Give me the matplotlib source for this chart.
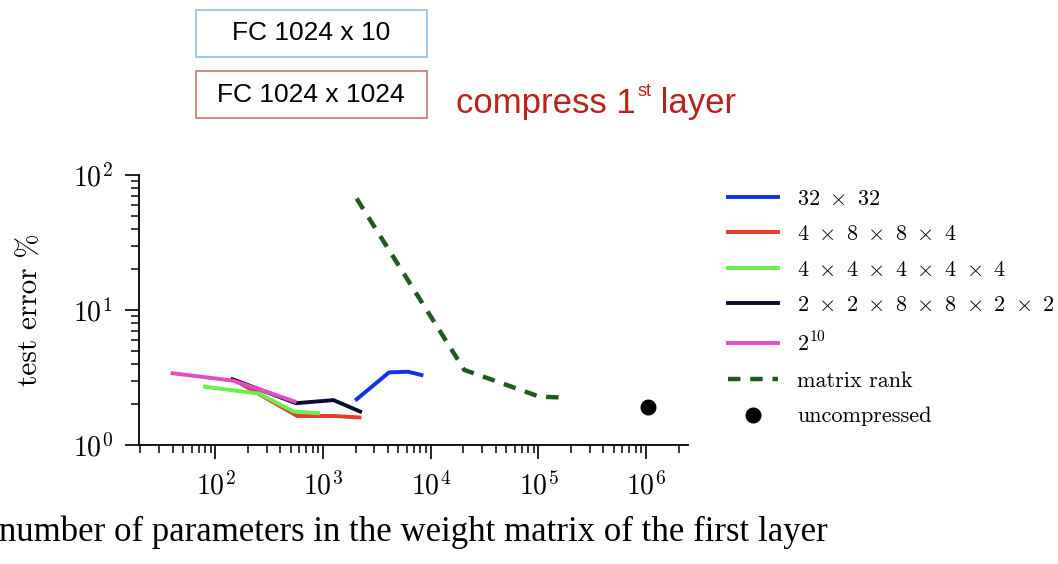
import numpy as np
import matplotlib
matplotlib.use('Agg')
import matplotlib.pyplot as plt
from matplotlib.patches import Rectangle
from matplotlib.ticker import NullFormatter

plt.rcParams['font.family'] = 'cmr10'
plt.rcParams['mathtext.fontset'] = 'cm'
plt.rcParams['axes.formatter.use_mathtext'] = True

# tensor-train layers, one array pair per shape (params vs test error %)
tt_32x32_params = [2048, 4096, 6144, 8192]
tt_32x32_err = [2.18, 3.45, 3.49, 3.30]

tt_4884_params = [160, 576, 1248, 2176]
tt_4884_err = [2.94, 1.64, 1.64, 1.60]

tt_44444_params = [80, 256, 528, 896]
tt_44444_err = [2.70, 2.40, 1.77, 1.72]

tt_228822_params = [144, 560, 1248, 2208]
tt_228822_err = [3.07, 2.04, 2.15, 1.77]

tt_2pow10_params = [40, 144, 312, 544]
tt_2pow10_err = [3.40, 3.00, 2.45, 2.10]

# low rank matrix baseline
rank_params = [2048, 20480, 102400, 163840]
rank_err = [67.0, 3.6, 2.28, 2.25]

full_params = [1048576]
full_err = [1.9]

labels = [r'$32\ \times\ 32$', r'$4\ \times\ 8\ \times\ 8\ \times\ 4$',
          r'$4\ \times\ 4\ \times\ 4\ \times\ 4\ \times\ 4$',
          r'$2\ \times\ 2\ \times\ 8\ \times\ 8\ \times\ 2\ \times\ 2$', r'$2^{10}$',
          'matrix rank', 'uncompressed']
colors = ['#1030f0', '#e83a28', '#6cee4c', '#0c0c30', '#e64cc6']

W, H = 1058, 564
fig = plt.figure(figsize=(W / 100, H / 100), dpi=100)
ax = fig.add_axes([139 / W, 1 - 445 / H, (688 - 139) / W, (445 - 175) / H])

series = [(tt_32x32_params, tt_32x32_err), (tt_4884_params, tt_4884_err),
          (tt_44444_params, tt_44444_err), (tt_228822_params, tt_228822_err),
          (tt_2pow10_params, tt_2pow10_err)]
for (xs, ys), c, lab in zip(series, colors, labels):
    ax.plot(xs, ys, color=c, lw=2.8, label=lab)

ax.plot(rank_params, rank_err, '--', color='#1f5a1f', lw=3.2, dashes=(2.8, 2.2),
        label=labels[5])
ax.plot(full_params, full_err, 'o', color='black', ms=10.5, label=labels[6])

ax.set_xscale('log')
ax.set_yscale('log')
ax.set_xlim(19.5, 2.45e6)
ax.set_ylim(1, 100)

for s in ['top', 'right']:
    ax.spines[s].set_visible(False)
for s in ['left', 'bottom']:
    ax.spines[s].set_linewidth(1.3)
ax.tick_params(which='major', direction='out', length=10, width=1.2, labelsize=20, pad=9)
ax.tick_params(which='minor', direction='out', length=6, width=1.1)
ax.xaxis.set_minor_formatter(NullFormatter())
ax.yaxis.set_minor_formatter(NullFormatter())

ax.set_xlabel('number of parameters in the weight matrix of the first layer',
              fontsize=25, family='Liberation Serif')
ax.xaxis.set_label_coords(0.5, -0.26)
ax.set_ylabel('test error %', fontsize=21)
ax.yaxis.set_label_coords(-0.175, 0.5)

ax.legend(loc='upper left', bbox_to_anchor=(728 / W, 1 - 189 / H),
          bbox_transform=fig.transFigure, frameon=False, fontsize=16,
          handlelength=2.25, handletextpad=0.85, labelspacing=0.72,
          borderpad=0, borderaxespad=0, numpoints=1)

# slide annotations above the plot
fig.add_artist(Rectangle((196 / W, 1 - 57 / H), 231 / W, 47 / H, transform=fig.transFigure,
                         fill=False, ec='#8ec0de', lw=1.2))
fig.text(311 / W, 1 - 33.5 / H, 'FC 1024 x 10', ha='center', va='center',
         fontsize=19, family='Liberation Sans')
fig.add_artist(Rectangle((196 / W, 1 - 118 / H), 231 / W, 47 / H, transform=fig.transFigure,
                         fill=False, ec='#d07272', lw=1.2))
fig.text(311 / W, 1 - 94.5 / H, 'FC 1024 x 1024', ha='center', va='center',
         fontsize=19, family='Liberation Sans')

red = '#b8231c'
t1 = fig.text(456 / W, 1 - 113 / H, 'compress 1', fontsize=25, color=red,
              family='Liberation Sans', va='baseline')
t2 = ax.annotate('st', xy=(1, 0), xycoords=t1, xytext=(1, 17), textcoords='offset points',
                 fontsize=13, color=red, family='Liberation Sans', va='baseline')
t3 = ax.annotate(' layer', xy=(1, 0), xycoords=(t2, t1), xytext=(0, 0),
                 textcoords='offset points', fontsize=25, color=red,
                 family='Liberation Sans', va='bottom')

fig.savefig('out.png', dpi=100)
